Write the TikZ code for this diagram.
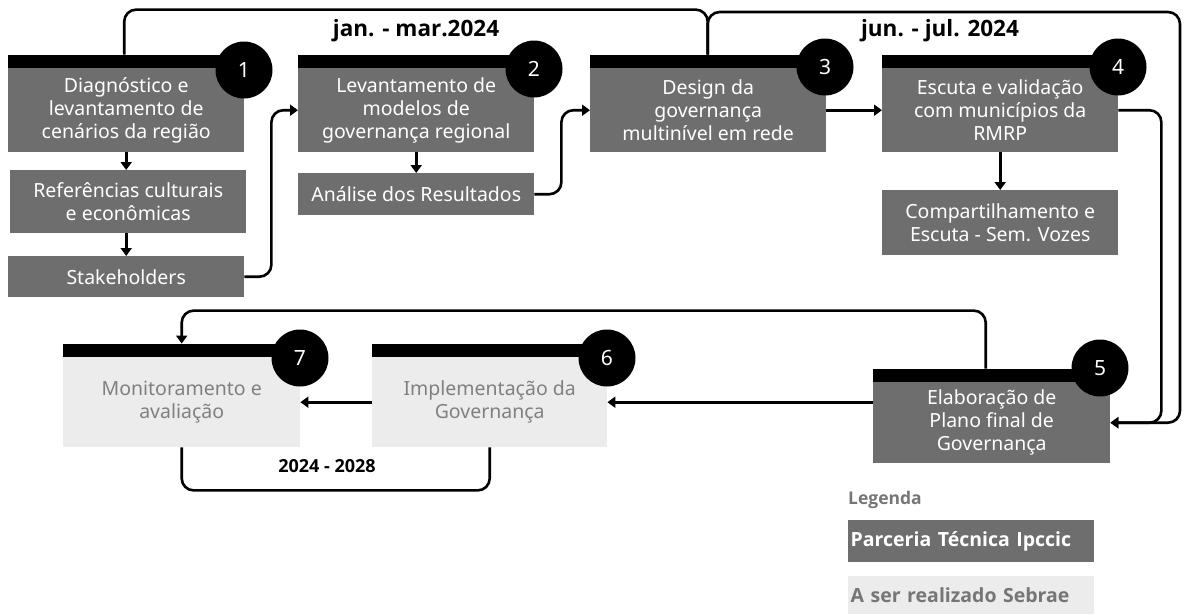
\documentclass[tikz,border=0pt]{standalone}
\usepackage{fontspec}
\setmainfont{Noto Sans}
\newfontfamily\datefont{Open Sans}
\usetikzlibrary{arrows.meta}

\definecolor{darkbox}{RGB}{110,110,110}
\definecolor{lightbox}{RGB}{236,236,236}
\definecolor{lighttext}{RGB}{128,128,128}
\definecolor{legendtext}{RGB}{118,118,118}

\begin{document}
\begin{tikzpicture}[x=1pt,y=-1pt,
  dark/.style={fill=darkbox, text=white, align=center,
    font=\fontsize{19.5}{23}\selectfont, inner sep=0pt,
    minimum width=236pt, anchor=north west},
  light/.style={dark, fill=lightbox, text=lighttext},
  bar/.style={fill=black, inner sep=0pt, minimum height=13pt, anchor=south west},
  num/.style={circle, fill=black, text=white, minimum size=57pt, inner sep=0pt,
    font=\fontsize{21}{21}\selectfont},
  link/.style={line width=2.6pt, rounded corners=12pt},
  arr/.style={link, -{Triangle[length=8pt,width=11pt]}},
  datelabel/.style={font=\datefont\bfseries\fontsize{22.5}{22.5}\selectfont, inner sep=0pt},
  legendbox/.style={inner sep=0pt, minimum width=246pt, anchor=north west,
    font=\datefont\bfseries\fontsize{19.5}{19.5}\selectfont, text width=241pt, align=left}
]
\useasboundingbox (0,0) rectangle (1184,614);

% stage 1 and its sub-steps
\node[dark, minimum height=84pt] (s1) at (8,68) {Diagnóstico e\\levantamento de\\cenários da região};
\node[bar, minimum width=232pt] (s1bar) at (s1.north west) {};
\node[num] (n1) at (244,70) {1};
\node[dark, minimum height=63pt] (s1a) at (10,170) {Referências culturais\\e econômicas};
\node[dark, minimum height=41pt] (s1b) at (8,256) {Stakeholders};

% stage 2
\node[dark, minimum height=84pt] (s2) at (298,68) {Levantamento de\\modelos de\\governança regional};
\node[bar, minimum width=234pt] (s2bar) at (s2.north west) {};
\node[num] (n2) at (534,69) {2};
\node[dark, minimum height=42pt] (s2a) at (298,173) {Análise dos Resultados};

% stage 3
\node[dark, minimum height=84pt] (s3) at (590,68) {Design da\\governança\\multinível em rede};
\node[bar, minimum width=235pt] (s3bar) at (s3.north west) {};
\node[num] (n3) at (825,67) {3};

% stage 4
\node[dark, minimum height=84pt] (s4) at (882,68) {Escuta e validação\\com municípios da\\RMRP};
\node[bar, minimum width=235pt] (s4bar) at (s4.north west) {};
\node[num] (n4) at (1118,67) {4};
\node[dark, minimum height=65pt] (s4a) at (882,190) {Compartilhamento e\\Escuta - Sem. Vozes};

% stage 5
\node[dark, minimum height=81pt, minimum width=237pt] (s5) at (873,382) {Elaboração de\\Plano final de\\Governança};
\node[bar, minimum width=225pt] (s5bar) at (s5.north west) {};
\node[num] (n5) at (1100,368) {5};

% stage 6
\node[light, minimum height=90pt, minimum width=235pt] (s6) at (372,357) {Implementação da\\Governança};
\node[bar, minimum width=235pt] (s6bar) at (s6.north west) {};
\node[num] (n6) at (607,358) {6};

% stage 7
\node[light, minimum height=90pt, minimum width=237pt] (s7) at (63,357) {Monitoramento e\\avaliação};
\node[bar, minimum width=237pt] (s7bar) at (s7.north west) {};
\node[num] (n7) at (300,358) {7};

% period labels
\node[datelabel] (d1) at (416,31) {jan. - mar.2024};
\node[datelabel] (d2) at (940,31) {jun. - jul. 2024};
\node[datelabel, font=\datefont\bfseries\fontsize{18}{18}\selectfont] (d3) at (327,466) {2024 - 2028};

% connectors
\draw[arr] (s1.south) -- (s1.south |- s1a.north);
\draw[arr] (s1a.south -| s1.south) -- (s1b.north);
\draw[arr] (s1b.east) -- ++(27,0) |- (s2.west);
\draw[arr] (s2.south) -- (s2a.north);
\draw[arr] (s2a.east) -- ++(27,0) |- (s3.west);
\draw[arr] (s3.east) -- (s4.west);
\draw[arr] (s4.south) -- (s4a.north);
\draw[arr] (s4.east) -- ++(43,0) |- (s5.east);
\draw[link] (s1bar.north) -- ++(0,-45) -| (s3bar.north);
\draw[arr] (s3bar.north) |- (1180,12) |- (s5.east);
\draw[arr] (s5bar.north) -- ++(0,-58) -| (s7bar.north);
\draw[arr] (s5.west |- s6.east) -- (s6.east);
\draw[arr] (s6.west) -- (s7.east);
\draw[link] (s7.south) -- ++(0,43) -| (s6.south);

% legend
\node[anchor=west, inner sep=0pt, text=legendtext, font=\datefont\bfseries\fontsize{17.5}{17.5}\selectfont] (leg) at (848,500) {Legenda};
\node[legendbox, fill=darkbox, text=white, minimum height=42pt] (leg1) at (848,520) {Parceria Técnica Ipccic};
\node[legendbox, fill=lightbox, text=legendtext, minimum height=38pt] (leg2) at (848,576) {A ser realizado Sebrae};
\end{tikzpicture}
\end{document}
